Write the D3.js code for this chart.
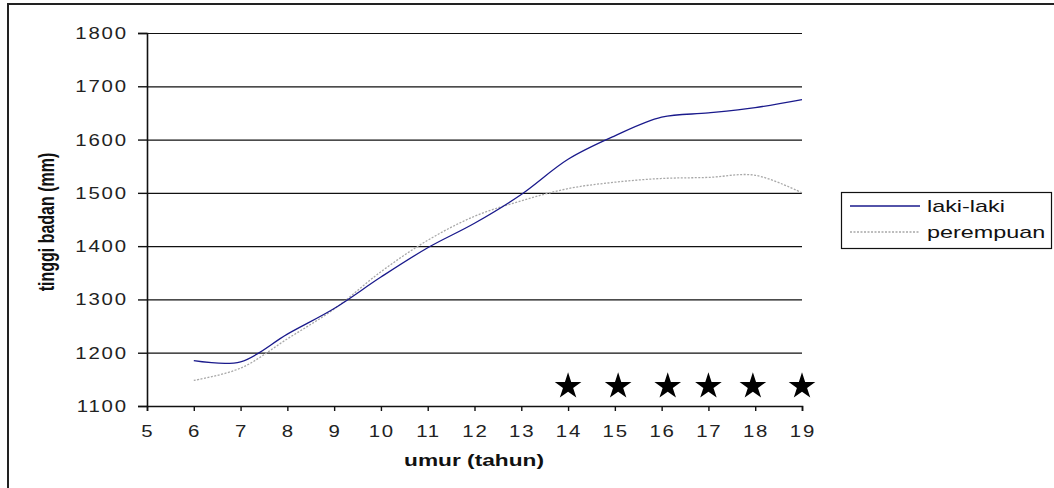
<!DOCTYPE html>
<html><head><meta charset="utf-8">
<script src="https://cdn.jsdelivr.net/npm/d3@7"></script>
<style>body{margin:0;background:#fff}svg{display:block}</style>
</head><body>
<svg id="c" width="1054" height="488"></svg>
<script>
const ages = [6,7,8,9,10,11,12,13,14,15,16,17,18,19];
const lakiLaki = [1185,1183,1235,1283,1342,1397,1443,1497,1563,1607,1642,1650,1660,1675];
const perempuan = [1148,1171,1226,1282,1352,1411,1456,1485,1508,1520,1527,1529,1533,1500];
const xTicks = [5,6,7,8,9,10,11,12,13,14,15,16,17,18,19];
const yTicks = [1100,1200,1300,1400,1500,1600,1700,1800];
const starX = [14,15.07,16.13,17,17.95,19];
const starY = 1137;
const seriesNames = ["laki-laki","perempuan"];

const svg = d3.select("#c");
const x = d3.scaleLinear().domain([5,19]).range([147,802]);
const y = d3.scaleLinear().domain([1100,1800]).range([406,33]);
const SX = 1.42;
const TS = 1.2, LS = 1.5;
const font = "'Liberation Sans', Arial, sans-serif";

// outer border
svg.append("rect").attr("x",8).attr("y",4).attr("width",1100).attr("height",600)
  .attr("fill","none").attr("stroke","#222").attr("stroke-width",2);

// gridlines
svg.append("g").selectAll("line").data(yTicks.filter(d=>d>1100)).join("line")
  .attr("x1",x(5)).attr("x2",x(19)).attr("y1",d=>y(d)+0.5).attr("y2",d=>y(d)+0.5)
  .attr("stroke","#111").attr("stroke-width",1.2);

// axes
const yAxis = svg.append("g").attr("transform",`translate(${x(5)},0)`)
  .call(d3.axisLeft(y).tickValues(yTicks).tickSize(9).tickFormat(""));
const xAxis = svg.append("g").attr("transform",`translate(0,${y(1100)})`)
  .call(d3.axisBottom(x).tickValues(xTicks).tickSize(5).tickFormat(""));
[yAxis,xAxis].forEach(g=>{
  g.select(".domain").attr("stroke","#111").attr("stroke-width",1.6);
  g.selectAll(".tick line").attr("stroke","#111").attr("stroke-width",1.4);
});

// tick labels
svg.append("g").selectAll("text").data(yTicks).join("text")
  .attr("transform",d=>`translate(${126+LS*TS},${y(d)+6}) scale(${TS},1)`)
  .attr("text-anchor","end").attr("font-family",font).attr("font-size",17)
  .attr("letter-spacing",LS).attr("fill","#222")
  .text(d=>d);
svg.append("g").selectAll("text").data(xTicks).join("text")
  .attr("transform",d=>`translate(${x(d)+LS*TS/2},437) scale(${TS},1)`)
  .attr("text-anchor","middle").attr("font-family",font).attr("font-size",17)
  .attr("letter-spacing",LS).attr("fill","#222")
  .text(d=>d);

// axis titles
svg.append("text").attr("transform",`translate(474,466) scale(${SX},1)`)
  .attr("text-anchor","middle").attr("font-family",font).attr("font-weight","bold")
  .attr("font-size",16).attr("fill","#111").text("umur (tahun)");
svg.append("text").attr("transform",`translate(54,222) scale(${SX},1) rotate(-90)`)
  .attr("text-anchor","middle").attr("font-family",font).attr("font-weight","bold")
  .attr("font-size",16).attr("fill","#111").text("tinggi badan (mm)");

// lines
const line = d3.line().x(d=>x(d[0])).y(d=>y(d[1])).curve(d3.curveCatmullRom.alpha(0.5));
svg.append("path").datum(ages.map((a,i)=>[a,perempuan[i]])).attr("d",line)
  .attr("fill","none").attr("stroke","#a8a8a8").attr("stroke-width",1.3).attr("stroke-dasharray","2,1.5");
svg.append("path").datum(ages.map((a,i)=>[a,lakiLaki[i]])).attr("d",line)
  .attr("fill","none").attr("stroke","#1a1a8c").attr("stroke-width",1.3);

// stars
svg.append("g").selectAll("path").data(starX).join("path")
  .attr("transform",d=>`translate(${x(d)},${y(starY)})`)
  .attr("d",d3.symbol(d3.symbolStar, 14*14/0.8908130915292852))
  .attr("fill","#000");

// legend
const lg = svg.append("g");
lg.append("rect").attr("x",841.5).attr("y",192.5).attr("width",210).attr("height",56)
  .attr("fill","#fff").attr("stroke","#111").attr("stroke-width",1.2);
const ly = [206,232];
lg.append("line").attr("x1",850).attr("x2",920).attr("y1",ly[0]).attr("y2",ly[0])
  .attr("stroke","#1a1a8c").attr("stroke-width",1.3);
lg.append("line").attr("x1",850).attr("x2",920).attr("y1",ly[1]).attr("y2",ly[1])
  .attr("stroke","#a8a8a8").attr("stroke-width",1.3).attr("stroke-dasharray","2,1.5");
lg.selectAll("text.l").data(seriesNames).join("text").attr("class","l")
  .attr("transform",(d,i)=>`translate(927,${ly[i]+6}) scale(1.46,1)`)
  .attr("font-family",font).attr("font-size",16).attr("fill","#111").text(d=>d);
</script>
</body></html>
